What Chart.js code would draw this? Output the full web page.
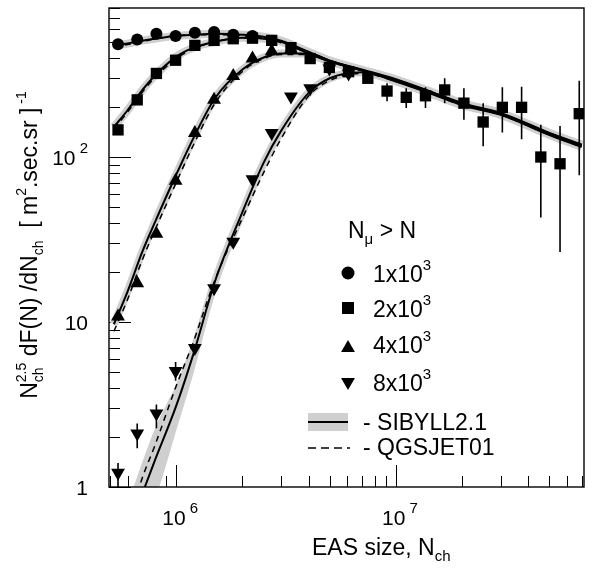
<!DOCTYPE html>
<html>
<head>
<meta charset="utf-8">
<script src="https://cdn.jsdelivr.net/npm/chart.js@4.4.0/dist/chart.umd.min.js"></script>
<style>
  html, body { margin: 0; padding: 0; background: #fff; }
  canvas { display: block; }
</style>
</head>
<body>
<canvas id="chart" width="592" height="568"></canvas>
<script>
// shower size bins, N_ch
const binN = [5.43e5, 6.64e5, 8.12e5, 9.93e5, 1.215e6, 1.486e6, 1.817e6, 2.223e6, 2.719e6,
  3.327e6, 4.069e6, 4.977e6, 6.088e6, 7.447e6, 9.11e6, 1.114e7, 1.363e7, 1.667e7, 2.039e7,
  2.495e7, 3.051e7, 3.733e7, 4.566e7, 5.585e7, 6.832e7];

// measured spectra for N_mu > threshold
const mu1e3 = [482, 516, 558, 541, 566, 572, 551, 541];
const mu2e3 = [146, 222, 321, 386, 475, 509, 521, 525, 509, 460, 395, 349, 329, 300, 251,
  230, 235, 255, 212, 163, 200, 200, 100, 91, 183];
const mu2e3Lo = [null, null, null, null, null, null, null, null, null, null, null, null, null, null,
  218, 198, 198, 212, 168, 116, 141, 128, 43, 26.6, 77.5];
const mu2e3Hi = [null, null, null, null, null, null, null, null, null, null, null, null, null, null,
  280, 261, 265, 300, 261, 212, 265, 267, 157, 154, 290];
const mu4e3 = [10.8, 17.2, 34.3, 71.8, 140, 222, 310, 395, 438, 448];
const mu8e3 = [1.22, 2.11, 2.79, 5.05, 6.95, 16.0, 30.6, 73.4, 140, 233, 261, 344, 321];
const mu8e3Lo = [0.9, 1.72, 2.27, 4.40];
const mu8e3Hi = [1.40, 2.43, 3.16, 5.73];

// model curves
const curveN = [5.2e5, 6e5, 7e5, 8e5, 1e6, 1.2e6, 1.5e6, 2e6, 2.5e6, 3e6, 4e6, 5e6, 7e6,
  1e7, 1.5e7, 2e7, 3e7, 5e7, 7e7];
const sib1e3 = [473, 487, 507, 521, 543, 551, 558, 551, 536, 507, 435, 384, 339, 296, 244, 212, 185, 140, 119];
const sib2e3 = [152, 192, 254, 312, 406, 460, 500, 528, 521, 500, 424, 379, 335, 291, 241, 210, 183, 139, 118];
const sib4e3 = [9.69, 15.3, 26.6, 40.3, 78.3, 131, 227, 339, 401, 424, 424, 384, 335, 291, 240, 209, 182, 138, 117];
const sib8e3 = [null, null, 0.909, 1.455, 3.11, 6.48, 17.6, 46.3, 92.4, 144, 244, 300, 326, 287, 237, 206, 180, 136, 115];
const qgs1e3 = [467, 480, 500, 521, 543, 551, 551, 543, 528, 500, 429, 379, 335, 291, 244, 212, 182, 138, 117];
const qgs2e3 = [148, 187, 247, 304, 395, 454, 500, 528, 521, 493, 424, 379, 335, 291, 244, 209, 182, 138, 117];
const qgs4e3 = [8.79, 13.7, 23.8, 36.1, 70.1, 119, 212, 330, 395, 418, 418, 384, 335, 291, 240, 209, 182, 138, 117];
const qgs8e3 = [null, 0.592, 1.134, 1.79, 4.11, 7.66, 18.05, 42.6, 80.5, 129, 234, 291, 321, 287, 237, 206, 180, 136, 115];

// SIBYLL band for 8x10^3, low-size end where it widens
const bandN = [6e5, 7e5, 8e5, 1e6, 1.2e6, 1.5e6, 2e6, 2.5e6, 3e6];
const band8Hi = [0.781, 1.415, 2.265, 4.22, 7.98, 20.2, 50.3, 99.0, 152];
const band8Lo = [0.365, 0.553, 0.837, 2.20, 4.92, 14.9, 42.6, 86.2, 136];

// axes
const X_MIN = 4.94e5, X_MAX = 7.18e7;
const Y_MIN = 1, Y_MAX = 800;
const xDecades = [1e5, 1e6, 1e7];
const yDecades = [1, 10, 100];
const xTickLabels = [[1e6, '10', '6'], [1e7, '10', '7']];
const yTickLabels = [[1, '1', ''], [10, '10', ''], [100, '10', '2']];

const legendRows = [
  ['circle', 0, '1'],
  ['rect', 0, '2'],
  ['triangle', 0, '4'],
  ['triangle', 180, '8']
];

const FONT = '"Liberation Sans", Arial, sans-serif';
const BAND = '#cfcfcf';

function xy(xs, ys) {
  return ys.map((v, i) => ({ x: xs[i], y: v })).filter(p => p.y != null);
}

// parts: [text, size, dy] or {stack: [[text,size,dy], ...]}
function rich(ctx, parts, x, y, align) {
  const widthOf = p => { ctx.font = `${p[1]}px ${FONT}`; return ctx.measureText(p[0]).width; };
  const partW = p => p.stack ? Math.max(...p.stack.map(widthOf)) : widthOf(p);
  const total = parts.reduce((s, p) => s + partW(p), 0);
  let cx = align === 'right' ? x - total : align === 'center' ? x - total / 2 : x;
  ctx.textAlign = 'left';
  ctx.textBaseline = 'alphabetic';
  parts.forEach(p => {
    const list = p.stack ? p.stack : [p];
    list.forEach(q => {
      ctx.font = `${q[1]}px ${FONT}`;
      ctx.fillText(q[0], cx, y + (q[2] || 0));
    });
    cx += partW(p);
  });
}

const rootAxes = {
  id: 'rootAxes',
  beforeDatasetsDraw(chart) {
    const { ctx, chartArea: a, scales: { x, y } } = chart;
    ctx.save();
    ctx.strokeStyle = '#000';
    ctx.lineWidth = 1;
    ctx.beginPath();
    xDecades.forEach(d => {
      for (let m = 1; m <= 9; m++) {
        const v = m * d;
        if (v < X_MIN || v > X_MAX) continue;
        const px = Math.round(x.getPixelForValue(v)) + 0.5;
        const len = m === 1 ? 22 : 11;
        ctx.moveTo(px, a.bottom);
        ctx.lineTo(px, a.bottom - len);
      }
    });
    yDecades.forEach(d => {
      for (let m = 1; m <= 9; m++) {
        const v = m * d;
        if (v < Y_MIN || v > Y_MAX) continue;
        const py = Math.round(y.getPixelForValue(v)) + 0.5;
        const len = m === 1 ? 22 : 11;
        ctx.moveTo(a.left, py);
        ctx.lineTo(a.left + len, py);
      }
    });
    ctx.stroke();
    ctx.restore();
  },
  afterDatasetsDraw(chart) {
    const { ctx, chartArea: a, scales: { x, y } } = chart;
    ctx.save();
    ctx.beginPath();
    ctx.rect(a.left, a.top, a.right - a.left, a.bottom - a.top);
    ctx.clip();
    ctx.strokeStyle = '#000';
    ctx.lineWidth = 1.6;
    ctx.beginPath();
    mu2e3Lo.forEach((lo, i) => {
      if (lo == null) return;
      const px = x.getPixelForValue(binN[i]);
      ctx.moveTo(px, y.getPixelForValue(lo));
      ctx.lineTo(px, y.getPixelForValue(mu2e3Hi[i]));
    });
    mu8e3Lo.forEach((lo, i) => {
      const px = x.getPixelForValue(binN[i]);
      ctx.moveTo(px, y.getPixelForValue(lo));
      ctx.lineTo(px, y.getPixelForValue(mu8e3Hi[i]));
    });
    ctx.stroke();
    ctx.restore();

    // frame
    ctx.save();
    ctx.strokeStyle = '#000';
    ctx.lineWidth = 1.4;
    ctx.strokeRect(a.left, a.top, a.right - a.left, a.bottom - a.top);
    ctx.restore();
  },
  afterDraw(chart) {
    const { ctx, scales: { x, y } } = chart;
    ctx.save();
    ctx.fillStyle = '#000';

    xTickLabels.forEach(([v, base, exp]) => {
      rich(ctx, [[base, 21], [' ' + exp, 15, -12]], x.getPixelForValue(v) + 4, 525, 'center');
    });
    yTickLabels.forEach(([v, base, exp]) => {
      const parts = exp ? [[base, 21], [' ' + exp, 15, -12]] : [[base, 21]];
      rich(ctx, parts, 88, y.getPixelForValue(v) + 8, 'right');
    });

    rich(ctx, [['EAS size, N', 23], ['ch', 15, 6]], 312, 555, 'left');

    ctx.save();
    ctx.translate(37, 245);
    ctx.rotate(-Math.PI / 2);
    rich(ctx, [
      ['N', 23], { stack: [['2.5', 14, -11], ['ch', 14, 6]] },
      [' dF(N) /dN', 23], ['ch', 14, 6],
      ['  [ m', 23], ['2', 14, -11], ['.sec.sr ]', 23], [' -1', 14, -11]
    ], 0, 0, 'center');
    ctx.restore();

    // legend
    rich(ctx, [['N', 23], ['\u03bc', 15, 6], [' > N', 23]], 348, 238, 'left');
    const rowY = [273, 308, 347, 383];
    const textY = [282, 317, 353, 391];
    legendRows.forEach(([style, rot, lead], i) => {
      Chart.helpers.drawPoint(ctx, {
        pointStyle: style, rotation: rot, borderWidth: 0,
        radius: style === 'circle' ? 6.5 : style === 'rect' ? 8.5 : 8
      }, 348, rowY[i] + (rot ? -1 : 1) * (style === 'triangle' ? 1 : 0));
      rich(ctx, [[lead + 'x10', 23], ['3', 15, -12]], 373, textY[i], 'left');
    });

    ctx.fillStyle = BAND;
    ctx.fillRect(308, 413, 40, 18);
    ctx.strokeStyle = '#000';
    ctx.lineWidth = 2;
    ctx.beginPath();
    ctx.moveTo(308, 422);
    ctx.lineTo(348, 422);
    ctx.stroke();
    ctx.lineWidth = 1.5;
    ctx.setLineDash([8, 5]);
    ctx.beginPath();
    ctx.moveTo(308, 448);
    ctx.lineTo(350, 448);
    ctx.stroke();
    ctx.setLineDash([]);
    ctx.fillStyle = '#000';
    rich(ctx, [['- SIBYLL2.1', 23]], 363, 430, 'left');
    rich(ctx, [['- QGSJET01', 23]], 363, 455, 'left');
    ctx.restore();
  }
};

const sibSets = [sib1e3, sib2e3, sib4e3, sib8e3];
const qgsSets = [qgs1e3, qgs2e3, qgs4e3, qgs8e3];
const datasets = [];

datasets.push({
  data: xy(bandN, band8Hi), borderWidth: 0, pointRadius: 0, borderColor: 'rgba(0,0,0,0)',
  backgroundColor: BAND, fill: '+1', order: 6
});
datasets.push({
  data: xy(bandN, band8Lo), borderWidth: 0, pointRadius: 0, borderColor: 'rgba(0,0,0,0)',
  fill: false, order: 6
});
sibSets.forEach(s => datasets.push({
  data: xy(curveN, s), borderColor: BAND, borderWidth: 8, pointRadius: 0, order: 5
}));
sibSets.forEach(s => datasets.push({
  data: xy(curveN, s), borderColor: '#000', borderWidth: 2, pointRadius: 0, order: 4
}));
qgsSets.forEach(s => datasets.push({
  data: xy(curveN, s), borderColor: '#000', borderWidth: 1.5, borderDash: [6, 5], pointRadius: 0, order: 3
}));

const markerSets = [
  [mu1e3, 'circle', 0, 6],
  [mu2e3, 'rect', 0, 8],
  [mu4e3, 'triangle', 0, 8],
  [mu8e3, 'triangle', 180, 8]
];
markerSets.forEach(([vals, style, rot, r]) => datasets.push({
  data: xy(binN, vals), showLine: false, pointStyle: style, rotation: rot,
  pointRadius: r, backgroundColor: '#000', borderColor: '#000', borderWidth: 0, order: 1
}));

new Chart(document.getElementById('chart').getContext('2d'), {
  type: 'line',
  data: { datasets },
  options: {
    responsive: false,
    animation: false,
    layout: { padding: { left: 109, right: 6, top: 4, bottom: 81 } },
    plugins: { legend: { display: false }, tooltip: { enabled: false }, filler: { propagate: false } },
    elements: { line: { cubicInterpolationMode: 'monotone' } },
    scales: {
      x: { type: 'logarithmic', min: X_MIN, max: X_MAX, display: false },
      y: { type: 'logarithmic', min: Y_MIN, max: Y_MAX, display: false }
    }
  },
  plugins: [rootAxes]
});
</script>
</body>
</html>
